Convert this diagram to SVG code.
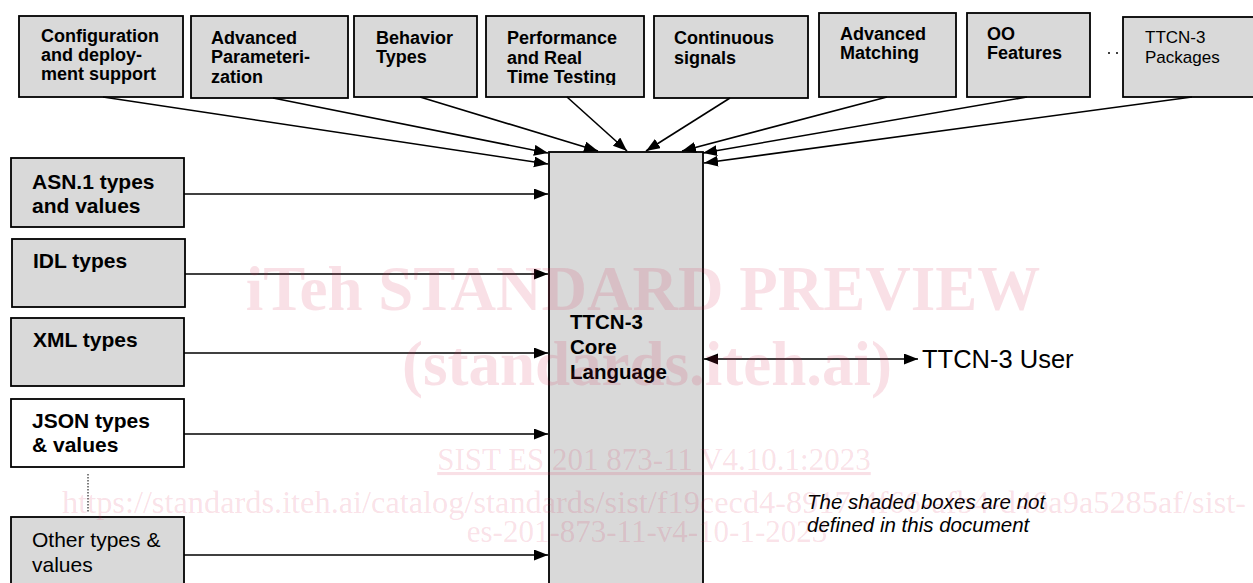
<svg xmlns="http://www.w3.org/2000/svg" width="1253" height="583" viewBox="0 0 1253 583">
<defs>
<marker id="ah" markerUnits="userSpaceOnUse" markerWidth="15" markerHeight="12" refX="14" refY="5.5" orient="auto-start-reverse"><path d="M0,0 L14,5.5 L0,11 z" fill="#000"/></marker>
<clipPath id="clipPerf"><rect x="486" y="16" width="158" height="69"/></clipPath>
</defs>
<style>
.box{fill:#d9d9d9;stroke:#000;stroke-width:1.8}
.wbox{fill:#fff;stroke:#000;stroke-width:1.8}
.t{font-family:"Liberation Sans",Arial,sans-serif;font-weight:bold;font-size:18px;fill:#000}
.tr{font-family:"Liberation Sans",Arial,sans-serif;font-size:17px;fill:#000}
.l{font-family:"Liberation Sans",Arial,sans-serif;font-weight:bold;font-size:21px;fill:#000}
.lr{font-family:"Liberation Sans",Arial,sans-serif;font-size:21px;fill:#000}
.c{font-family:"Liberation Sans",Arial,sans-serif;font-weight:bold;font-size:20.5px;fill:#000}
.u{font-family:"Liberation Sans",Arial,sans-serif;font-size:25.5px;fill:#000}
.n{font-family:"Liberation Sans",Arial,sans-serif;font-style:italic;font-size:20.5px;fill:#000}
.conn line{stroke:#000;stroke-width:1.6;marker-end:url(#ah)}
.wm{font-family:"Liberation Serif","Times New Roman",serif;fill:#d8204f;fill-opacity:0.14}
</style>
<g id="n-config"><rect class="box" x="19" y="16" width="164" height="81"/><text class="t" x="41" y="42">Configuration</text><text class="t" x="41" y="61">and deploy-</text><text class="t" x="41" y="80">ment support</text></g>
<g id="n-param"><rect class="box" x="191" y="16" width="157" height="82"/><text class="t" x="211" y="44">Advanced</text><text class="t" x="211" y="63">Parameteri-</text><text class="t" x="211" y="83">zation</text></g>
<g id="n-behavior"><rect class="box" x="354" y="16" width="123" height="81"/><text class="t" x="376" y="44">Behavior</text><text class="t" x="376" y="63">Types</text></g>
<g id="n-perf"><rect class="box" x="486" y="16" width="158" height="81"/><g clip-path="url(#clipPerf)"><text class="t" x="507" y="44">Performance</text><text class="t" x="507" y="64">and Real</text><text class="t" x="507" y="83">Time Testing</text></g></g>
<g id="n-cont"><rect class="box" x="654" y="16" width="154" height="82"/><text class="t" x="674" y="44">Continuous</text><text class="t" x="674" y="64">signals</text></g>
<g id="n-match"><rect class="box" x="819" y="13" width="137" height="84"/><text class="t" x="840" y="40">Advanced</text><text class="t" x="840" y="59">Matching</text></g>
<g id="n-oo"><rect class="box" x="967" y="13" width="123" height="84"/><text class="t" x="987" y="40">OO</text><text class="t" x="987" y="59">Features</text></g>
<g id="n-dots"><circle cx="1109" cy="53" r="1" fill="#000"/><circle cx="1117" cy="53" r="1" fill="#000"/></g>
<g id="n-pkg"><rect class="box" x="1123" y="17" width="140" height="80"/><text class="tr" x="1145" y="43">TTCN-3</text><text class="tr" x="1145" y="63">Packages</text></g>
<g id="n-asn"><rect class="box" x="11" y="158" width="173" height="69"/><text class="l" x="32" y="189">ASN.1 types</text><text class="l" x="32" y="213">and values</text></g>
<g id="n-idl"><rect class="box" x="12" y="239" width="173" height="68"/><text class="l" x="33" y="268">IDL types</text></g>
<g id="n-xml"><rect class="box" x="11" y="318" width="173" height="68"/><text class="l" x="33" y="347">XML types</text></g>
<g id="n-json"><rect class="wbox" x="11" y="399" width="173" height="68"/><text class="l" x="32" y="428">JSON types</text><text class="l" x="32" y="452">&amp; values</text></g>
<g id="n-other"><rect class="box" x="11" y="517" width="173" height="80"/><text class="lr" x="32" y="547">Other types &amp;</text><text class="lr" x="32" y="572">values</text></g>
<g id="n-core"><rect class="box" x="549" y="152" width="154" height="450"/><text class="c" x="570" y="329">TTCN-3</text><text class="c" x="570" y="354">Core</text><text class="c" x="570" y="379">Language</text></g>
<g id="n-user"><text class="u" x="922" y="368">TTCN-3 User</text></g>
<g id="n-note"><text class="n" x="807" y="509">The shaded boxes are not</text><text class="n" x="807" y="532">defined in this document</text></g>
<g id="connectors" class="conn">
<line x1="103" y1="97" x2="548" y2="164"/>
<line x1="273" y1="98" x2="548" y2="153"/>
<line x1="420" y1="97" x2="598" y2="151"/>
<line x1="567" y1="97" x2="627" y2="151"/>
<line x1="730" y1="98" x2="646" y2="151"/>
<line x1="887" y1="97" x2="682" y2="151"/>
<line x1="1027" y1="97" x2="703" y2="153"/>
<line x1="1192" y1="97" x2="704" y2="163"/>
<line x1="184" y1="194" x2="548" y2="194"/>
<line x1="185" y1="274" x2="548" y2="274"/>
<line x1="184" y1="353" x2="548" y2="353"/>
<line x1="184" y1="434" x2="548" y2="434"/>
<line x1="184" y1="555" x2="548" y2="555"/>
<line x1="704" y1="359" x2="918" y2="359" style="marker-start:url(#ah)"/>
<path d="M88,474 L88,512" stroke="#000" stroke-width="1" stroke-dasharray="1.5 1.5" fill="none"/>
</g>
<g id="watermark">
<text class="wm" x="643" y="310" text-anchor="middle" font-size="63" font-weight="bold">iTeh STANDARD PREVIEW</text>
<text class="wm" x="647" y="385" text-anchor="middle" font-size="63" font-weight="bold">(standards.iteh.ai)</text>
<text class="wm" x="654" y="470" text-anchor="middle" font-size="31" text-decoration="underline">SIST ES 201 873-11 V4.10.1:2023</text>
<text class="wm" x="62" y="513" font-size="31" textLength="1184" lengthAdjust="spacingAndGlyphs">https://standards.iteh.ai/catalog/standards/sist/f19cecd4-8917-4f66-afb4-d46a9a5285af/sist-</text>
<text class="wm" x="647" y="542" text-anchor="middle" font-size="31">es-201-873-11-v4-10-1-2023</text>
</g>
</svg>
